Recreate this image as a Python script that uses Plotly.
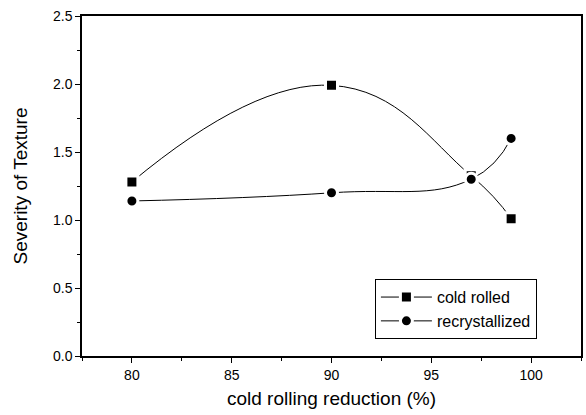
import plotly.graph_objects as go

reduction = [80, 90, 97, 99]
cold_rolled = [1.28, 1.99, 1.325, 1.01]
recrystallized = [1.14, 1.20, 1.30, 1.60]

FONT = "Liberation Sans, Arial"

fig = go.Figure()
fig.add_trace(go.Scatter(
    x=reduction, y=cold_rolled, name="cold rolled", mode="lines+markers",
    line=dict(color="black", width=1, shape="spline", smoothing=1.3),
    marker=dict(symbol="square", size=12, color="black", line=dict(color="white", width=3)),
))
fig.add_trace(go.Scatter(
    x=reduction, y=recrystallized, name="recrystallized", mode="lines+markers",
    line=dict(color="black", width=1, shape="spline", smoothing=1.3),
    marker=dict(symbol="circle", size=12, color="black", line=dict(color="white", width=3)),
))

axis_common = dict(
    showgrid=False, zeroline=False, showline=True, linecolor="black", linewidth=1.5,
    mirror=True, ticks="outside", ticklen=5, tickwidth=1.2, tickcolor="black",
    tickfont=dict(family=FONT, size=14, color="black"),
)
fig.update_xaxes(
    range=[77.5, 102.5], tickvals=[80, 85, 90, 95, 100],
    minor=dict(dtick=2.5, tick0=77.5, ticks="outside", ticklen=3, tickcolor="black", tickwidth=1),
    title=dict(text="cold rolling reduction (%)", font=dict(family=FONT, size=19, color="black"), standoff=10),
    **axis_common,
)
fig.update_yaxes(
    range=[0, 2.5], tickvals=[0, 0.5, 1.0, 1.5, 2.0, 2.5], tickformat=".1f",
    minor=dict(dtick=0.25, ticks="outside", ticklen=3, tickcolor="black", tickwidth=1),
    title=dict(text="Severity of Texture", font=dict(family=FONT, size=19, color="black"), standoff=20),
    **axis_common,
)
fig.update_layout(
    width=586, height=415, plot_bgcolor="white", paper_bgcolor="white",
    margin=dict(l=82, r=3, t=16, b=59),
    legend=dict(x=0.587, y=0.226, xanchor="left", yanchor="top",
                bordercolor="black", borderwidth=1, bgcolor="white",
                font=dict(family=FONT, size=16, color="black"),
                tracegroupgap=0, itemwidth=51),
    showlegend=True,
)
fig.write_html("out.html", config={"displayModeBar": False},
               post_script="document.body.style.margin='0';")
